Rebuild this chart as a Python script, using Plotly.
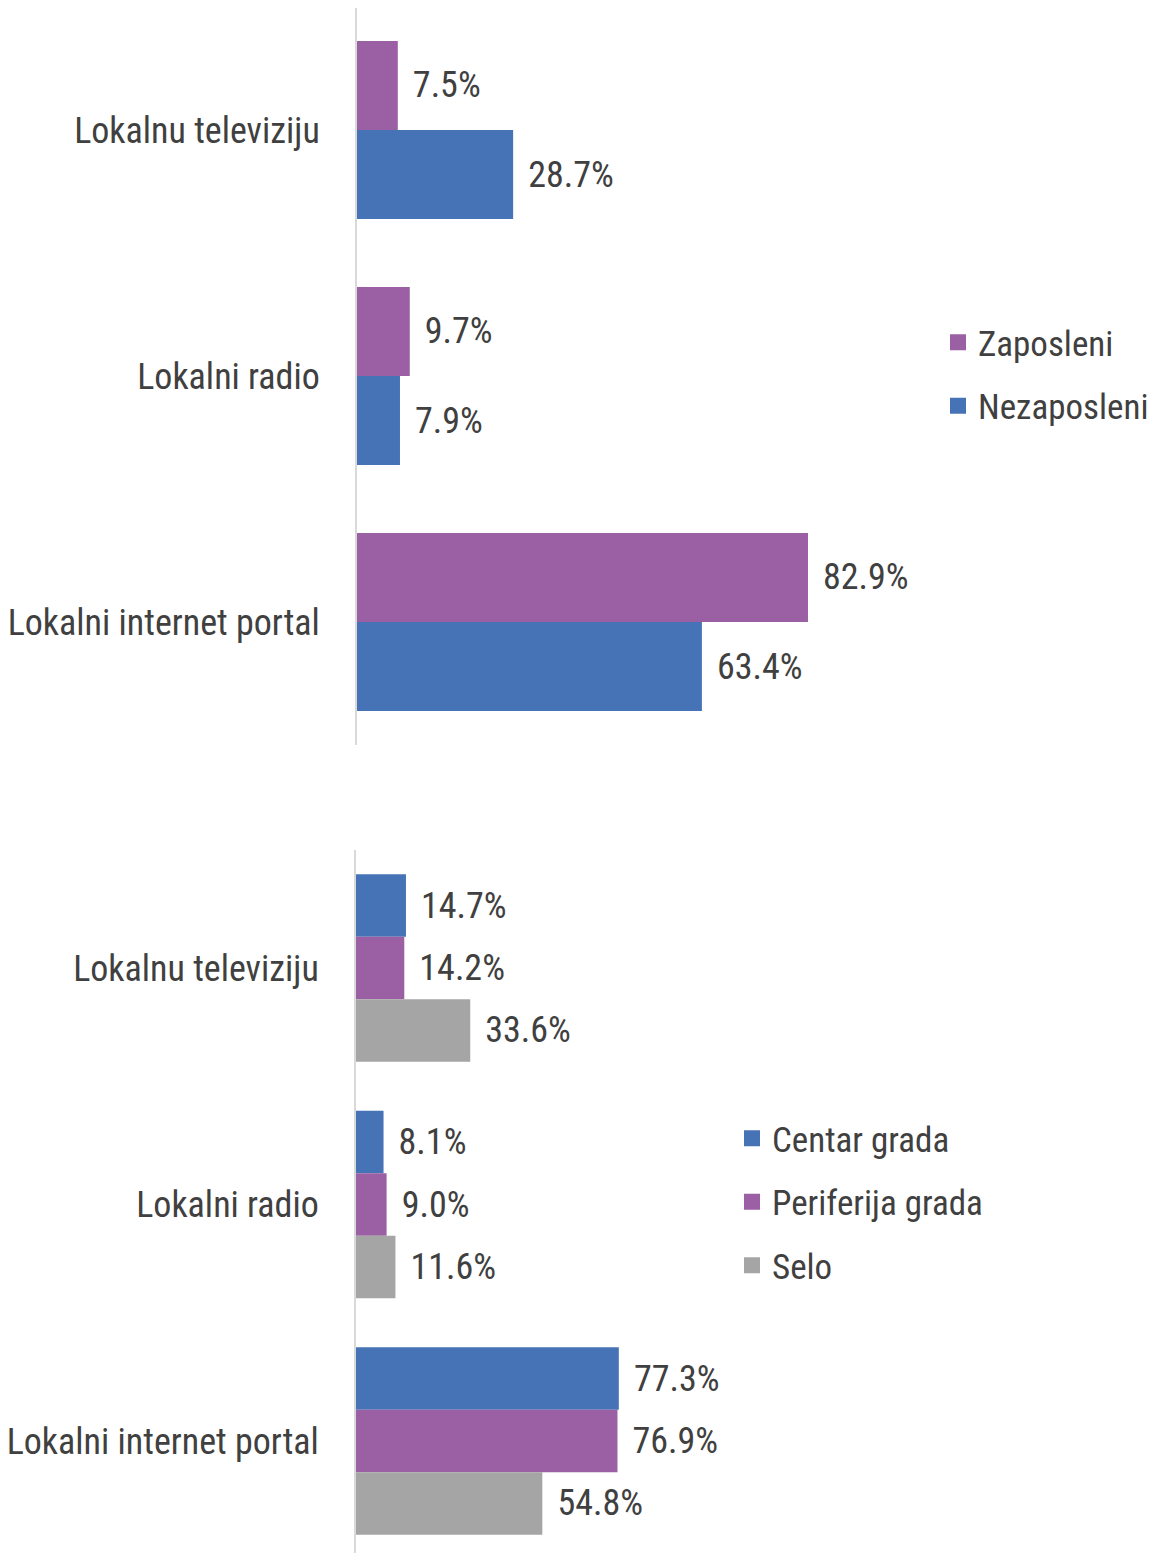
import plotly.graph_objects as go

categories = ["Lokalnu televiziju", "Lokalni radio", "Lokalni internet portal"]

# gornji grafikon: zaposleni / nezaposleni
zaposleni = [7.5, 9.7, 82.9]
nezaposleni = [28.7, 7.9, 63.4]

# donji grafikon: mjesto stanovanja
centar_grada = [14.7, 8.1, 77.3]
periferija_grada = [14.2, 9.0, 76.9]
selo = [33.6, 11.6, 54.8]

PURPLE = "#9B5FA3"
BLUE = "#4672B6"
GREY = "#A5A5A5"
TEXT = "#404040"
FONT = "Roboto Condensed, Liberation Sans Narrow, DejaVu Sans Condensed, sans-serif"

# the page body adds an 8px margin, so the figure is a bit smaller than the window
W, H = 1148, 1545


def _labels(values):
    return ["\u00a0\u200a" + f"{v:.1f}%" for v in values]


def _add_bars(fig, values, name, color, width, offset, xaxis, yaxis):
    fig.add_trace(
        go.Bar(
            x=values,
            y=categories,
            orientation="h",
            name=name,
            marker=dict(color=color, line=dict(width=0)),
            width=width,
            offset=offset,
            text=_labels(values),
            textposition="outside",
            textfont=dict(size=36, color=TEXT, family=FONT),
            constraintext="none",
            cliponaxis=False,
            showlegend=False,
            hovertemplate=f"{name}: %{{x:.1f}}%<extra></extra>",
            xaxis=xaxis,
            yaxis=yaxis,
        )
    )


def _add_legend_item(fig, name, color, legend, xaxis, yaxis):
    fig.add_trace(
        go.Scatter(
            x=[None],
            y=[None],
            mode="markers",
            name=name,
            legendgroup=name,
            legend=legend,
            marker=dict(symbol="square", size=16, color=color),
            xaxis=xaxis,
            yaxis=yaxis,
        )
    )


fig = go.Figure()

top_w = 0.362
_add_bars(fig, zaposleni, "Zaposleni", PURPLE, top_w, -top_w, "x", "y")
_add_bars(fig, nezaposleni, "Nezaposleni", BLUE, top_w, 0.0, "x", "y")
_add_legend_item(fig, "Zaposleni", PURPLE, "legend", "x", "y")
_add_legend_item(fig, "Nezaposleni", BLUE, "legend", "x", "y")

bot_w = 0.264
_add_bars(fig, centar_grada, "Centar grada", BLUE, bot_w, -1.5 * bot_w, "x2", "y2")
_add_bars(fig, periferija_grada, "Periferija grada", PURPLE, bot_w, -0.5 * bot_w, "x2", "y2")
_add_bars(fig, selo, "Selo", GREY, bot_w, 0.5 * bot_w, "x2", "y2")
_add_legend_item(fig, "Centar grada", BLUE, "legend2", "x2", "y2")
_add_legend_item(fig, "Periferija grada", PURPLE, "legend2", "x2", "y2")
_add_legend_item(fig, "Selo", GREY, "legend2", "x2", "y2")

xa = dict(visible=False, showgrid=False, zeroline=False, fixedrange=True, automargin=False)
ya = dict(
    type="category",
    automargin=False,
    showline=True,
    linecolor="#D9D9D9",
    linewidth=2,
    showgrid=False,
    zeroline=False,
    ticks="",
    ticklabelstandoff=28,
    tickfont=dict(size=36, color=TEXT, family=FONT),
)

legend_style = dict(
    bgcolor="rgba(0,0,0,0)",
    font=dict(size=35, color=TEXT, family=FONT),
    tracegroupgap=15,
    itemclick=False,
    xanchor="left",
    yanchor="top",
)

fig.update_layout(
    width=W,
    height=H,
    margin=dict(l=0, r=0, t=0, b=0, autoexpand=False),
    paper_bgcolor="white",
    plot_bgcolor="rgba(0,0,0,0)",
    barmode="overlay",
    font=dict(family=FONT, color=TEXT),
    xaxis=dict(xa, domain=[349 / W, 1.0], range=[0, 799 / 5.44], anchor="y"),
    yaxis=dict(ya, domain=[1 - 737 / H, 1.0], range=[2.5, -0.496], anchor="x"),
    xaxis2=dict(xa, domain=[348 / W, 1.0], range=[0, 800 / 3.40], anchor="y2"),
    yaxis2=dict(ya, domain=[0.0, 1 - 842 / H], range=[2.4736, -0.499], anchor="x2"),
    legend=dict(legend_style, x=930 / W, y=1 - 305 / H),
    legend2=dict(legend_style, x=724 / W, y=1 - 1101 / H),
)

fig.write_html("out.html")
